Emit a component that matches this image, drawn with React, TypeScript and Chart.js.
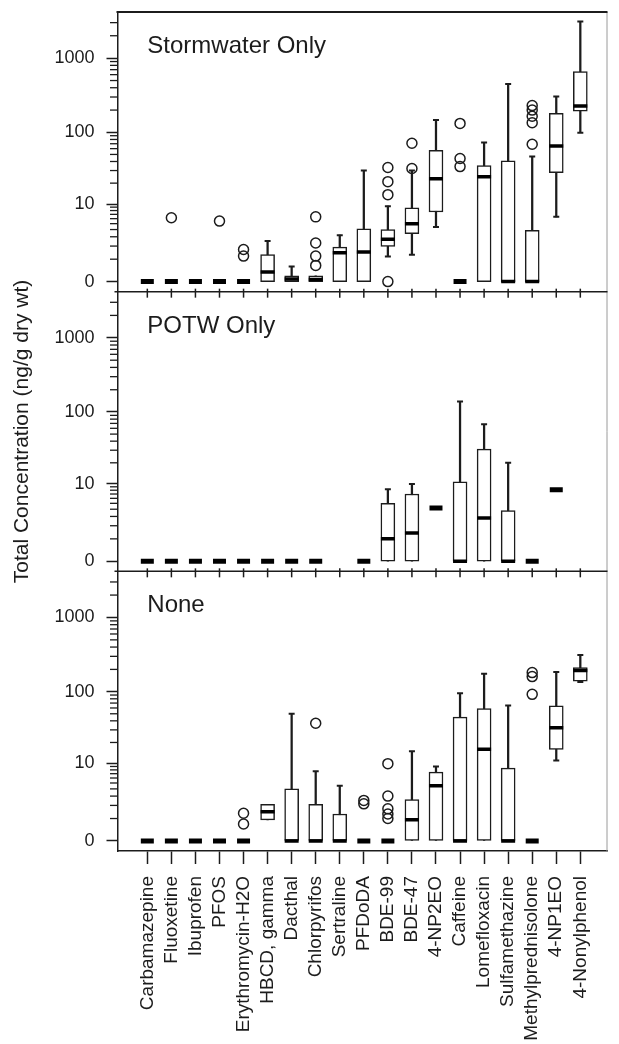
import React, { useEffect, useRef } from 'react';
import { Chart, registerables } from 'chart.js';

Chart.register(...registerables);

const categories = [
  'Carbamazepine', 'Fluoxetine', 'Ibuprofen', 'PFOS', 'Erythromycin-H2O', 'HBCD, gamma',
  'Dacthal', 'Chlorpyrifos', 'Sertraline', 'PFDoDA', 'BDE-99', 'BDE-47', '4-NP2EO',
  'Caffeine', 'Lomefloxacin', 'Sulfamethazine', 'Methylprednisolone', '4-NP1EO', '4-Nonylphenol',
];

const panelTitles = ['Stormwater Only', 'POTW Only', 'None'];
const yAxisTitle = 'Total Concentration (ng/g dry wt)';
const majorTickValues = [0, 10, 100, 1000];
const minorTickValues = [1, 2, 3, 4, 5, 6, 7, 8, 9, 20, 30, 40, 50, 60, 70, 80, 90,
  200, 300, 400, 500, 600, 700, 800, 900, 2000, 3000];

// ---- Stormwater Only ----
const swQ1 = [0, 0, 0, 0, 0, 0, 0, 0, 0, 0, 1.96, 3.4, 7.6, 0, 0, 0, 0, 28, 194];
const swMed = [0, 0, 0, 0, 0, 0.35, 0.08, 0.07, 1.45, 1.5, 2.7, 5.0, 23, 0, 24.5, 0, 0, 65, 227];
const swQ3 = [0, 0, 0, 0, 0, 1.3, 0.2, 0.2, 1.9, 4.1, 4.0, 8.8, 57, 0, 35, 41, 3.9, 181, 661];
const swMin = [0, 0, 0, 0, 0, 0, 0, 0, 0, 0, 1.17, 1.3, 4.4, 0, 0, 0, 0, 6.4, 99];
const swMax = [0, 0, 0, 0, 0, 2.5, 0.6, 0.2, 3.2, 30, 9.3, 30, 147, 0, 73, 450, 47, 304, 3100];
const swOut = [[], [6.2], [], [5.5], [1.7, 1.2], [], [], [6.4, 2.3, 1.2, 0.65], [], [],
  [33, 21, 13.7, 0], [71, 32], [], [132, 44, 34], [], [], [230, 200, 165, 135, 69], [], []];

// ---- POTW Only ----
const poQ1 = [0, 0, 0, 0, 0, 0, 0, 0, null, 0, 0, 0, 4.2, 0, 0, 0, 0, 8.1, null];
const poMed = [0, 0, 0, 0, 0, 0, 0, 0, null, 0, 1.0, 1.4, 4.2, 0, 2.8, 0, 0, 8.1, null];
const poQ3 = [0, 0, 0, 0, 0, 0, 0, 0, null, 0, 5.0, 7.0, 4.2, 10.7, 31, 3.8, 0, 8.1, null];
const poMin = [0, 0, 0, 0, 0, 0, 0, 0, null, 0, 0, 0, 4.2, 0, 0, 0, 0, 8.1, null];
const poMax = [0, 0, 0, 0, 0, 0, 0, 0, null, 0, 8.25, 9.9, 4.2, 139, 68, 20, 0, 8.1, null];
const poOut = [[], [], [], [], [], [], [], [], [], [], [], [], [], [], [], [], [], [], []];

// ---- None ----
const noQ1 = [0, 0, 0, 0, 0, 0.92, 0, 0, 0, 0, 0, 0, 0, 0, 0, 0, 0, 16, 139];
const noMed = [0, 0, 0, 0, 0, 1.46, 0, 0, 0, 0, 0, 0.92, 4.5, 0, 16, 0, 0, 32, 194];
const noQ3 = [0, 0, 0, 0, 0, 2.1, 4.0, 2.1, 1.3, 0, 0, 2.6, 7.4, 45, 59, 8.5, 0, 64, 211];
const noMin = [0, 0, 0, 0, 0, 0.92, 0, 0, 0, 0, 0, 0, 0, 0, 0, 0, 0, 11, 135];
const noMax = [0, 0, 0, 0, 0, 2.1, 50, 7.6, 4.5, 0, 0, 15, 9.0, 95, 175, 65, 0, 184, 313];
const noOut = [[], [], [], [], [1.35, 0.69], [], [], [37], [], [2.5, 2.15],
  [9.9, 3.0, 1.7, 1.3, 1.0], [], [], [], [], [], [181, 160, 92], [], []];

// axis geometry (transformed units: log10(v + 1))
const T_MIN = -0.135;
const T_MAX = 3.62;
const SPAN = T_MAX - T_MIN;
const X_MIN = -1.24;
const X_MAX = 19.13;

const tf = (v: number, panel: number) => Math.log10(v + 1) + (2 - panel) * SPAN;

const INK = '#1c1c1c';
const FONT = "'Liberation Sans', Arial, sans-serif";

export default function App() {
  const ref = useRef<HTMLCanvasElement | null>(null);

  useEffect(() => {
    if (!ref.current) return;
    const panels = [
      { q1: swQ1, med: swMed, q3: swQ3, lo: swMin, hi: swMax, out: swOut },
      { q1: poQ1, med: poMed, q3: poQ3, lo: poMin, hi: poMax, out: poOut },
      { q1: noQ1, med: noMed, q3: noQ3, lo: noMin, hi: noMax, out: noOut },
    ];
    const whiskers: any[] = [];
    const boxes: any[] = [];
    const medBox: any[] = [];
    const medLone: any[] = [];
    const caps: any[] = [];
    const outs: any[] = [];
    panels.forEach((p, k) => {
      categories.forEach((_, i) => {
        const med = p.med[i];
        if (med == null) return;
        const q1 = p.q1[i] as number;
        const q3 = p.q3[i] as number;
        const lo = p.lo[i] as number;
        const hi = p.hi[i] as number;
        if (hi > lo) whiskers.push({ x: i, y: [tf(lo, k), tf(hi, k)] });
        if (q3 > q1) {
          boxes.push({ x: i, y: [tf(q1, k), tf(q3, k)] });
          medBox.push({ x: i, y: tf(med, k) });
        } else {
          medLone.push({ x: i, y: tf(med, k) });
        }
        if (hi > q3) caps.push({ x: i, y: tf(hi, k) });
        if (lo < q1) caps.push({ x: i, y: tf(lo, k) });
        p.out[i].forEach((v) => outs.push({ x: i, y: tf(v, k) }));
      });
    });

    const majorTicks: { value: number; label: string }[] = [];
    [0, 1, 2].forEach((k) => majorTickValues.forEach((v) =>
      majorTicks.push({ value: tf(v, k), label: String(v) })));

    const framePlugin = {
      id: 'frame',
      afterDraw(chart: any) {
        const { ctx, chartArea } = chart;
        const { left, right, top, bottom } = chartArea;
        const xs = chart.scales.x;
        const ys = chart.scales.y;
        ctx.save();
        // right border
        ctx.strokeStyle = '#9a9a9a';
        ctx.lineWidth = 1;
        ctx.beginPath();
        ctx.moveTo(right - 0.5, top);
        ctx.lineTo(right - 0.5, bottom);
        ctx.stroke();
        // top border
        ctx.strokeStyle = INK;
        ctx.lineWidth = 2;
        ctx.beginPath();
        ctx.moveTo(left - 1, top);
        ctx.lineTo(right, top);
        ctx.stroke();
        // separators with ticks
        ctx.lineWidth = 1.5;
        [1, 2].forEach((k) => {
          const yy = ys.getPixelForValue(T_MIN + k * SPAN);
          ctx.beginPath();
          ctx.moveTo(left - 3, yy);
          ctx.lineTo(right, yy);
          ctx.stroke();
          categories.forEach((_, i) => {
            const px = xs.getPixelForValue(i);
            ctx.beginPath();
            ctx.moveTo(px, yy - 3);
            ctx.lineTo(px, yy + 6);
            ctx.stroke();
          });
        });
        // minor y ticks
        ctx.strokeStyle = INK;
        ctx.lineWidth = 1.3;
        [0, 1, 2].forEach((k) => {
          minorTickValues.forEach((v) => {
            const yy = ys.getPixelForValue(tf(v, k));
            ctx.beginPath();
            ctx.moveTo(left - 7.5, yy);
            ctx.lineTo(left, yy);
            ctx.stroke();
          });
        });
        // panel titles
        ctx.fillStyle = INK;
        ctx.font = `24px ${FONT}`;
        ctx.textAlign = 'left';
        ctx.textBaseline = 'alphabetic';
        panelTitles.forEach((t, k) => {
          const pTop = ys.getPixelForValue(T_MIN + (3 - k) * SPAN);
          ctx.fillText(t, xs.getPixelForValue(0), pTop + 41);
        });
        ctx.restore();
      },
    };

    const chart = new Chart(ref.current, {
      type: 'bar',
      data: {
        datasets: [
          {
            type: 'bar', data: whiskers, barThickness: 1.6, backgroundColor: INK,
            borderWidth: 0, grouped: false, order: 5,
          } as any,
          {
            type: 'bar', data: boxes, barThickness: 14, backgroundColor: '#ffffff',
            borderColor: INK, borderWidth: 1.5, borderSkipped: false, grouped: false, order: 4,
          } as any,
          {
            type: 'scatter', data: caps, pointStyle: 'line', pointRadius: 3,
            pointBorderWidth: 2, pointBorderColor: INK, showLine: false, order: 3,
          } as any,
          {
            type: 'scatter', data: outs, pointStyle: 'circle', pointRadius: 5,
            pointBorderWidth: 1.5, pointBorderColor: INK, pointBackgroundColor: 'rgba(0,0,0,0)',
            showLine: false, order: 2,
          } as any,
          {
            type: 'scatter', data: medBox, pointStyle: 'line', pointRadius: 7,
            pointBorderWidth: 3.5, pointBorderColor: '#000', showLine: false, order: 1,
          } as any,
          {
            type: 'scatter', data: medLone, pointStyle: 'line', pointRadius: 6.5,
            pointBorderWidth: 5, pointBorderColor: '#000', showLine: false, order: 0,
          } as any,
        ],
      },
      options: {
        responsive: false,
        animation: false,
        devicePixelRatio: 1,
        events: [],
        layout: { padding: { top: 12, right: 2, left: 0, bottom: 0 } },
        plugins: { legend: { display: false }, tooltip: { enabled: false } },
        scales: {
          x: {
            type: 'linear',
            min: X_MIN,
            max: X_MAX,
            offset: false,
            afterBuildTicks: (scale: any) => {
              scale.ticks = categories.map((_, i) => ({ value: i }));
            },
            afterFit: (scale: any) => {
              scale.height = 193;
              scale.paddingLeft = 0;
              scale.paddingRight = 0;
            },
            ticks: {
              autoSkip: false,
              minRotation: 90,
              maxRotation: 90,
              padding: 12,
              color: INK,
              font: { family: FONT, size: 19 },
              callback: (v: any) => categories[Math.round(Number(v))] ?? '',
            },
            grid: {
              drawOnChartArea: false, drawTicks: true, tickLength: 13,
              tickColor: INK, tickWidth: 1.5, offset: false,
            },
            border: { display: true, color: INK, width: 1.5 },
          } as any,
          y: {
            type: 'linear',
            min: T_MIN,
            max: T_MIN + 3 * SPAN,
            afterBuildTicks: (scale: any) => {
              scale.ticks = majorTicks.map((t) => ({ value: t.value }));
            },
            afterFit: (scale: any) => {
              scale.width = 117.5;
              scale.paddingTop = 0;
              scale.paddingBottom = 0;
            },
            ticks: {
              padding: 12,
              color: INK,
              font: { family: FONT, size: 18 },
              callback: (v: any) => {
                const m = majorTicks.find((t) => Math.abs(t.value - Number(v)) < 1e-6);
                return m ? m.label : '';
              },
            },
            grid: {
              drawOnChartArea: false, drawTicks: true, tickLength: 11,
              tickColor: INK, tickWidth: 1.5,
            },
            border: { display: true, color: INK, width: 1.5 },
            title: {
              display: true,
              text: yAxisTitle,
              color: INK,
              font: { family: FONT, size: 21 },
              padding: { top: 10, bottom: 0 },
            },
          } as any,
        },
      },
      plugins: [framePlugin],
    } as any);
    return () => chart.destroy();
  }, []);

  return (
    <div style={{ position: 'absolute', left: 0, top: 0, width: 619, height: 1044, background: '#fff' }}>
      <canvas ref={ref} width={619} height={1044} style={{ display: 'block' }} />
    </div>
  );
}
